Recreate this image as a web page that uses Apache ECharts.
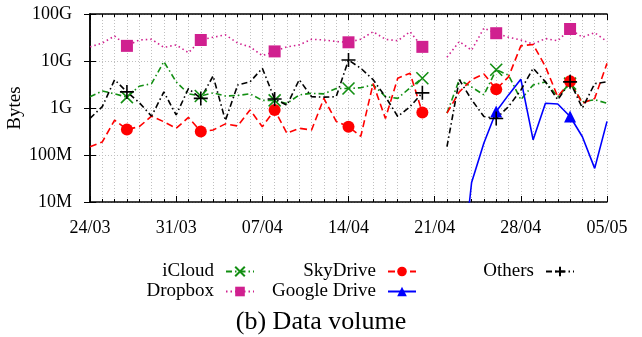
<!DOCTYPE html>
<html>
<head>
<meta charset="utf-8">
<script src="https://cdn.jsdelivr.net/npm/echarts@6/dist/echarts.min.js"></script>
<style>
  html, body { margin: 0; padding: 0; background: #fff; }
  #chart { width: 642px; height: 337px; }
</style>
</head>
<body>
<div id="chart"></div>
<script>
// day index 0 = 24/03, 42 = 05/05 (no data on 21/04)
var tickLabels = ['24/03', '31/03', '07/04', '14/04', '21/04', '28/04', '05/05'];
var yLabels = ['10M', '100M', '1G', '10G', '100G'];

var M = 1e6, G = 1e9;
var icloud = [1.74*G, 2.3*G, 2.0*G, 1.7*G, 2.9*G, 3.3*G, 9.7*G, 3.6*G, 2.0*G, 1.8*G,
  2.1*G, 1.8*G, 1.85*G, 2.0*G, 1.45*G, 1.45*G, 1.25*G, 1.9*G, 2.05*G, 2.0*G,
  2.6*G, 2.6*G, 2.7*G, 3.1*G, 1.75*G, 1.6*G, 2.7*G, 4.3*G, null, 780*M,
  4.0*G, 2.8*G, 1.9*G, 6.5*G, 5.0*G, 1.5*G, 3.1*G, 3.6*G, 1.74*G, 3.3*G,
  1.35*G, 1.5*G, 1.26*G];
var dropbox = [20*G, 24*G, 34*G, 21*G, 28*G, 29*G, 19.5*G, 22*G, 15*G, 28*G,
  32*G, 36*G, 24*G, 20*G, 13*G, 16*G, 20*G, 22*G, 29*G, 28*G,
  26*G, 25*G, 29*G, 42*G, 29*G, 27*G, 42*G, 20*G, null, 12*G,
  26*G, 17*G, 50*G, 39*G, 32*G, 28*G, 23*G, 30*G, 27*G, 48*G,
  32*G, 40*G, 26*G];
var skydrive = [150*M, 190*M, 550*M, 350*M, 400*M, 670*M, 510*M, 370*M, 630*M, 315*M,
  340*M, 460*M, 415*M, 910*M, 400*M, 910*M, 290*M, 370*M, 340*M, 1.6*G,
  520*M, 400*M, 250*M, 3.3*G, 600*M, 4.3*G, 5.5*G, 800*M, null, 780*M,
  2.2*G, 4.0*G, 5.3*G, 2.5*G, 4.6*G, 21*G, 22.5*G, 7.6*G, 1.74*G, 3.7*G,
  1.26*G, 1.6*G, 8.9*G];
var gdrive = [null, null, null, null, null, null, null, null, null, null,
  null, null, null, null, null, null, null, null, null, null,
  null, null, null, null, null, null, null, null, null, null,
  0.1*M, 26*M, 180*M, 840*M, 1.9*G, 4.1*G, 210*M, 1.26*G, 1.22*G, 660*M,
  245*M, 52*M, 520*M];
var others = [600*M, 1.07*G, 4.0*G, 2.2*G, 1.3*G, 670*M, 2.2*G, 710*M, 2.6*G, 1.6*G,
  4.8*G, 540*M, 3.1*G, 3.6*G, 7.0*G, 1.55*G, 1.15*G, 4.0*G, 1.74*G, 1.7*G,
  1.74*G, 10.5*G, 7.0*G, 4.0*G, 1.74*G, 660*M, 1.07*G, 2.1*G, null, 150*M,
  4.0*G, 1.5*G, 660*M, 600*M, 1.07*G, 2.4*G, 7.0*G, 3.6*G, 1.5*G, 3.6*G,
  1.0*G, 3.3*G, 3.6*G];

var FONT = 'Liberation Serif';
var crossPath = 'path://M0,0L10,10M10,0L0,10';
var plusPath = 'path://M5,0L5,10M0,5L10,5';

function pairs(arr) {
  return arr.map(function (v, i) { return [i, v]; });
}

// a marker every 6 days, starting at 27/03
function makeSeries(name, data, color, dash, symbol, size, stroked) {
  return {
    name: name,
    type: 'line',
    data: pairs(data),
    connectNulls: false,
    showSymbol: true,
    showAllSymbol: true,
    symbol: symbol,
    symbolSize: function (val, params) {
      return params.dataIndex % 6 === 3 ? size : 0;
    },
    lineStyle: { color: color, width: 1.6, type: dash },
    itemStyle: stroked
      ? { color: color, borderColor: color, borderWidth: 1.6 }
      : { color: color, borderWidth: 0 },
    emphasis: { disabled: true }
  };
}

function legendAt(name, right, top) {
  return {
    data: [name],
    right: right,
    top: top,
    padding: 0,
    align: 'right',
    itemWidth: 28,
    itemHeight: 12,
    selectedMode: false,
    textStyle: { fontFamily: FONT, fontSize: 19, color: '#000', padding: [0, 7, 0, 0] }
  };
}

var chart = echarts.init(document.getElementById('chart'));

var option = {
  animation: false,
  backgroundColor: '#fff',
  title: {
    text: '(b) Data volume',
    left: 'center',
    top: 309,
    padding: 0,
    textStyle: { fontFamily: FONT, fontSize: 26, fontWeight: 'normal', color: '#000' }
  },
  legend: [
    legendAt('iCloud', 387, 262),
    legendAt('Dropbox', 387, 282),
    legendAt('SkyDrive', 225, 262),
    legendAt('Google Drive', 225, 282),
    legendAt('Others', 67, 262)
  ],
  grid: { left: 90, right: 35, top: 14, bottom: 135, containLabel: false, outerBoundsMode: 'none' },
  xAxis: [{
    type: 'value',
    min: 0,
    max: 42,
    interval: 7,
    axisLine: { lineStyle: { color: '#000', width: 1.5 } },
    axisTick: { inside: true, length: 6, lineStyle: { color: '#000' } },
    minorTick: { show: true, splitNumber: 7, length: 3, lineStyle: { color: '#000' } },
    axisLabel: {
      margin: 17,
      fontFamily: FONT, fontSize: 18, color: '#000',
      formatter: function (v) { return tickLabels[Math.round(v / 7)]; }
    },
    splitLine: { show: true, lineStyle: { color: '#c0c0c0', type: [1, 2] } },
    minorSplitLine: { show: true, lineStyle: { color: '#c0c0c0', type: [1, 2] } }
  }, {
    type: 'value',
    position: 'top',
    min: 0,
    max: 42,
    interval: 7,
    axisLine: { lineStyle: { color: '#000', width: 1.5 } },
    axisTick: { inside: true, length: 6, lineStyle: { color: '#000' } },
    minorTick: { show: true, splitNumber: 7, length: 3, lineStyle: { color: '#000' } },
    axisLabel: { show: false },
    splitLine: { show: false }
  }],
  yAxis: [{
    type: 'log',
    logBase: 10,
    min: 1e7,
    max: 1e11,
    name: 'Bytes',
    nameLocation: 'middle',
    nameGap: 65,
    nameMoveOverlap: false,
    nameTextStyle: { fontFamily: FONT, fontSize: 19, color: '#000' },
    axisLine: { show: true, lineStyle: { color: '#000', width: 1.5 } },
    axisTick: { show: true, inside: true, length: 6, lineStyle: { color: '#000' } },
    axisLabel: {
      margin: 18,
      fontFamily: FONT, fontSize: 18, color: '#000',
      formatter: function (v) { return yLabels[Math.round(Math.log10(v)) - 7]; }
    },
    splitLine: { show: true, lineStyle: { color: '#c0c0c0', type: [1, 2] } }
  }, {
    type: 'log',
    logBase: 10,
    min: 1e7,
    max: 1e11,
    position: 'right',
    axisLine: { show: true, lineStyle: { color: '#000', width: 1.5 } },
    axisTick: { show: true, inside: true, length: 6, lineStyle: { color: '#000' } },
    axisLabel: { show: false },
    splitLine: { show: false }
  }],
  series: [
    makeSeries('iCloud', icloud, '#138f13', [6, 3, 1.5, 3], crossPath, 12, true),
    makeSeries('Dropbox', dropbox, '#d0208f', [1.5, 3], 'rect', 12, false),
    makeSeries('SkyDrive', skydrive, '#ff0000', [7, 4], 'circle', 12, false),
    makeSeries('Google Drive', gdrive, '#0000ff', 'solid', 'triangle', 12, false),
    makeSeries('Others', others, '#000000', [6, 3, 1.5, 3], plusPath, 14, true)
  ]
};

chart.setOption(option);
</script>
</body>
</html>
